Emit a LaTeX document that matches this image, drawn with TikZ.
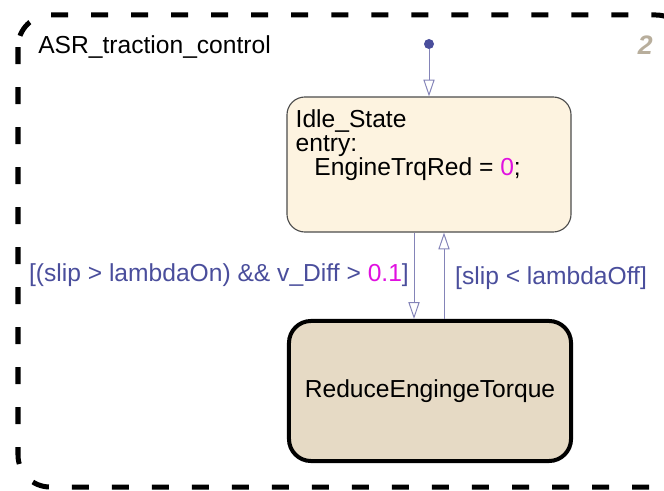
\documentclass[tikz,border=0pt]{standalone}
\usepackage{fontspec}
\setmainfont{Liberation Sans}
\usepackage{xcolor}
\usetikzlibrary{arrows.meta,calc}
\definecolor{transcol}{HTML}{8484B8}
\definecolor{guardcol}{HTML}{4A4E9C}
\definecolor{numcol}{HTML}{E010E0}
\definecolor{idlefill}{HTML}{FDF3E0}
\definecolor{reducefill}{HTML}{E6DAC5}
\definecolor{chartcol}{HTML}{B8AE9C}

\begin{document}
\begin{tikzpicture}[x=0.025cm,y=-0.025cm,
    font=\fontsize{17.5}{17}\selectfont,
    frame/.style={draw=black, line width=0.125cm, dash pattern=on 0.425cm off 0.575cm, rounded corners=0.8cm},
    idlebox/.style={draw=black!70, line width=0.8pt, fill=idlefill, rounded corners=0.45cm,
        minimum width=7.1cm, minimum height=3.375cm},
    reducebox/.style={draw=black, line width=0.1cm, fill=reducefill, rounded corners=0.55cm,
        minimum width=7.05cm, minimum height=3.5cm},
    trans/.style={draw=transcol, line width=0.7pt, -{Triangle[open,length=0.42cm,width=0.28cm]}},
    guard/.style={text=guardcol}]
        \useasboundingbox (0,0) rectangle (664,491);
        \draw[frame] (18,15) rectangle (688,487);
        \node[anchor=base west, inner sep=0] (chart) at (38,54) {ASR\_traction\_control};
        \node[anchor=base east, inner sep=0, text=chartcol, font=\fontsize{19}{19}\selectfont\bfseries\itshape] (chartid) at (653,55) {2};
        \node[circle, fill=guardcol, inner sep=0, minimum size=0.25cm] (init) at (429,44) {};
        \node[idlebox] (idle) at (429,164.5) {};
        \node[anchor=north west, align=left, inner sep=0] (idletxt) at ($(idle.north west)+(9,13)$)
            {Idle\_State\\entry:\\\hspace{0.47cm}EngineTrqRed = \textcolor{numcol}{0};};
        \node[reducebox] (reduce) at (430,391) {ReduceEngingeTorque};
        \draw[trans] (init) -- (idle.north);
        \draw[trans] ($(idle.south)+(-15,0)$) to node[left, guard, pos=0.49] {[(slip > lambdaOn) \&\& v\_Diff > \textcolor{numcol}{0.1}]} ($(reduce.north)+(-16,0)$);
        \draw[trans] ($(reduce.north)+(14,0)$) to node[right, guard, pos=0.47, xshift=0.15cm] {[slip < lambdaOff]} ($(idle.south)+(15,0)$);
    \end{tikzpicture}
\end{document}
